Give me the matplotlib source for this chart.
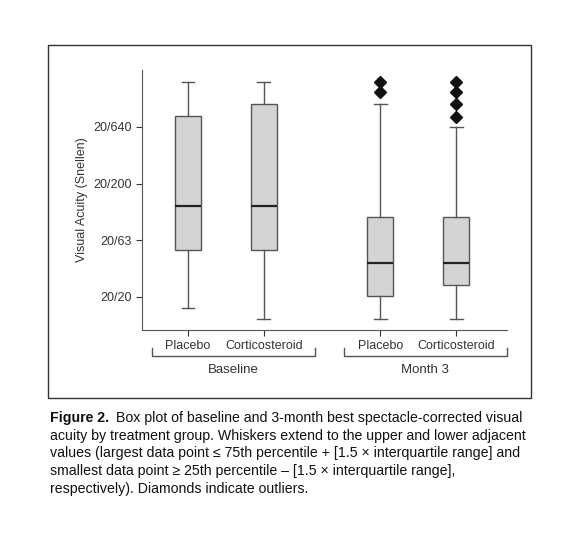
import matplotlib
matplotlib.use("Agg")
import matplotlib.pyplot as plt
from matplotlib.patches import Rectangle
from matplotlib.lines import Line2D

plt.rcParams['font.family'] = ['Liberation Sans', 'DejaVu Sans']

groups = ["Placebo", "Corticosteroid", "Placebo", "Corticosteroid"]
periods = ["Baseline", "Month 3"]
# Snellen denominators (20/x)
whislo = [15.8, 12.6, 12.6, 12.6]
q1 = [51.8, 51.8, 20.4, 25.4]
med = [127, 127, 40, 40]
q3 = [794, 1015, 101, 101]
whishi = [1600, 1600, 1015, 640]
fliers = [[], [], [1600, 1288], [1600, 1288, 1015, 784]]
tick_vals = [20, 63, 200, 640]
tick_labels = ["20/20", "20/63", "20/200", "20/640"]

W, H = 577, 539
fig = plt.figure(figsize=(W/100, H/100), dpi=100)
ax = fig.add_axes([142/W, 1-330/H, (507-142)/W, (330-70)/H])
pos = [1, 2, 3.53, 4.53]
stats = [dict(whislo=a, q1=b, med=c, q3=d, whishi=e, fliers=f)
         for a, b, c, d, e, f in zip(whislo, q1, med, q3, whishi, fliers)]
ax.bxp(stats, positions=pos, widths=0.34, patch_artist=True,
       boxprops=dict(facecolor='#d4d4d4', edgecolor='#555555', linewidth=1),
       medianprops=dict(color='#222222', linewidth=1.6),
       whiskerprops=dict(color='#555555', linewidth=1),
       capprops=dict(color='#555555', linewidth=1),
       flierprops=dict(marker='D', markerfacecolor='#111111', markeredgecolor='#111111', markersize=6))
ax.set_yscale('log')
ax.set_ylim(10.15, 2028)
ax.set_xlim(0.395, 5.2)
ax.set_yticks(tick_vals)
ax.set_yticklabels(tick_labels)
ax.minorticks_off()
ax.set_xticks(pos)
ax.set_xticklabels(groups)
ax.tick_params(labelsize=9, colors='#333333', length=4)
for s in ['top', 'right']:
    ax.spines[s].set_visible(False)
for s in ['left', 'bottom']:
    ax.spines[s].set_color('#555555')
ax.set_ylabel("Visual Acuity (Snellen)", fontsize=9, color='#333333')

def px(x, y):
    return (x/W, 1-y/H)

# group brackets
for (x0, x1, xl, lab) in [(152, 315, 233, periods[0]), (344, 507, 425, periods[1])]:
    xs = [x0, x0, x1, x1]; ys = [348, 356, 356, 348]
    fig.add_artist(Line2D([x/W for x in xs], [1-y/H for y in ys], color='#555555', lw=1))
    fig.text(*px(xl, 370), lab, ha='center', va='center', fontsize=9.5, color='#333333')

# frame
fig.add_artist(Rectangle(px(48, 398), (531-48)/W, (398-45)/H, fill=False, edgecolor='#333333', lw=1))

cap = ["acuity by treatment group. Whiskers extend to the upper and lower adjacent",
       "values (largest data point \u2264 75th percentile + [1.5 \u00d7 interquartile range] and",
       "smallest data point \u2265 25th percentile \u2013 [1.5 \u00d7 interquartile range],",
       "respectively). Diamonds indicate outliers."]
fig.text(*px(50, 418), "Figure 2.", fontsize=10.2, fontweight='bold', va='center', color='#111111')
fig.text(*px(116, 418), "Box plot of baseline and 3-month best spectacle-corrected visual",
         fontsize=10.2, va='center', color='#111111')
for i, line in enumerate(cap):
    fig.text(*px(50, 436 + 17.5*i), line, fontsize=10.2, va='center', color='#111111')

fig.savefig("out.png", dpi=100)
